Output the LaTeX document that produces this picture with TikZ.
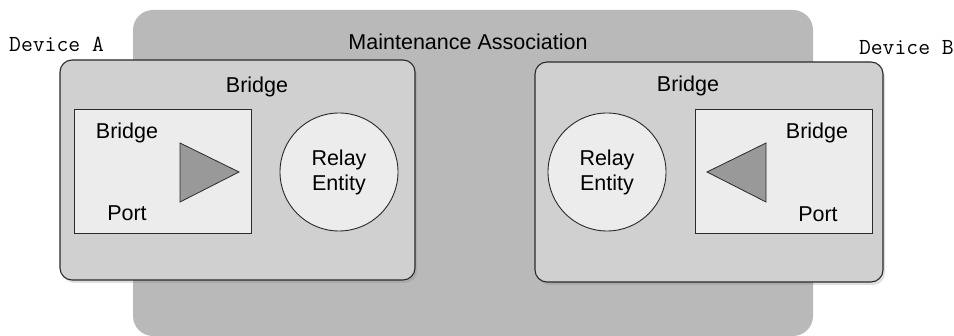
\documentclass[tikz,border=0pt]{standalone}
\usepackage{fontspec}
\setmainfont{Liberation Sans}
\usetikzlibrary{shadows}
\definecolor{magray}{HTML}{B9B9B9}
\definecolor{brgray}{HTML}{D0D0D0}
\definecolor{portgray}{HTML}{ECECEC}
\definecolor{trigray}{HTML}{999999}
\definecolor{edge}{HTML}{2A2A2A}
\tikzset{
  mabox/.style={fill=magray, rounded corners=20pt},
  bridgebox/.style={draw=edge, line width=1.1pt, fill=brgray, rounded corners=12pt,
    drop shadow={shadow xshift=2pt, shadow yshift=-3pt, opacity=0.25}},
  portbox/.style={draw=edge, line width=1pt, fill=portgray},
  relay/.style={draw=edge, line width=0.9pt, fill=portgray, circle, minimum size=118pt, inner sep=0pt, align=center, font=\fontsize{21.5}{25}\selectfont},
  tri/.style={draw=edge, line width=0.8pt, fill=trigray},
  lbl/.style={font=\fontsize{21.5}{25}\selectfont, inner sep=0pt},
  dev/.style={font=\ttfamily\fontsize{23}{26}\selectfont, inner sep=0pt}
}
\begin{document}
\begin{tikzpicture}[x=1pt,y=-1pt]
\useasboundingbox (0,0) rectangle (954,336);
% maintenance association
\path[mabox] (133,10) rectangle (813,336);
\node[lbl] (ma) at (468,42) {Maintenance Association};
% devices
\node[dev, anchor=west] (deva) at (9,44) {Device A};
\node[dev, anchor=east] (devb) at (954,48) {Device B};
% left bridge
\path[bridgebox] (60,60) rectangle (415,280);
\node[lbl] (brA) at (257,87) {Bridge};
\draw[portbox] (74,110) rectangle (251,234);
\node[lbl] (pbA) at (127,133) {Bridge};
\node[lbl] (ppA) at (127,213) {Port};
\draw[tri] (180,143) -- (239,172) -- (180,202) -- cycle;
\node[relay] (reA) at (339,172) {Relay\\Entity};
% right bridge
\path[bridgebox] (535,62) rectangle (883,282);
\node[lbl] (brB) at (688,86) {Bridge};
\draw[portbox] (695,110) rectangle (872,234);
\node[lbl] (pbB) at (817,133) {Bridge};
\node[lbl] (ppB) at (818,214) {Port};
\draw[tri] (766,143) -- (707,172) -- (766,202) -- cycle;
\node[relay] (reB) at (607,172) {Relay\\Entity};
\end{tikzpicture}
\end{document}
